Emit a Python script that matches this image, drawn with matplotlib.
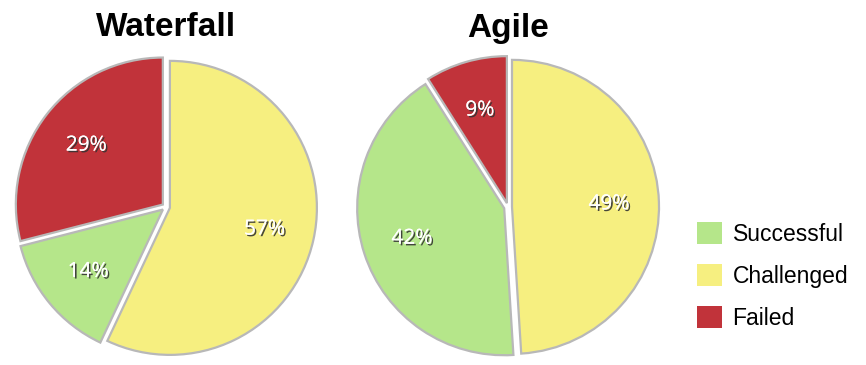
import matplotlib
matplotlib.use("Agg")
import matplotlib.pyplot as plt
import matplotlib.patheffects as pe
from matplotlib.patches import Patch

categories = ["Successful", "Challenged", "Failed"]
colors = ["#b5e68a", "#f6ef80", "#c1333a"]

# slices in drawing order (clockwise from 12 o'clock)
waterfall_order = ["Challenged", "Successful", "Failed"]
waterfall_values = [57, 14, 29]
agile_order = ["Challenged", "Successful", "Failed"]
agile_values = [49, 42, 9]

titles = ["Waterfall", "Agile"]

W, H = 866, 365
fig = plt.figure(figsize=(W / 100, H / 100), dpi=100)
ax = fig.add_axes([0, 0, 1, 1])
ax.set_xlim(0, W)
ax.set_ylim(0, H)
ax.set_aspect("equal")
ax.axis("off")

cmap = dict(zip(categories, colors))
shadow = [pe.withSimplePatchShadow(offset=(1.2, -1.2), shadow_rgbFace="#333333", alpha=0.9), pe.Normal()]

pies = [(waterfall_order, waterfall_values, (166, H - 207)),
        (agile_order, agile_values, (508, H - 207))]

for (order, vals, center), title in zip(pies, titles):
    # explode is in data units here (pixels), not radius fractions
    wedges, texts, autotexts = ax.pie(
        vals, colors=[cmap[c] for c in order], startangle=90, counterclock=False,
        center=center, radius=147, explode=[4] * len(vals),
        autopct=lambda p: f"{p:.0f}%", pctdistance=0.66,
        wedgeprops=dict(edgecolor="#b8b8b8", linewidth=1.6),
        textprops=dict(color="white", fontsize=15, family="Open Sans"))
    for t in autotexts:
        t.set_path_effects(shadow)
    ax.text(center[0], H - 28, title, ha="center", va="center",
            fontsize=24, fontweight="bold", family="Liberation Sans")

ax.set_xlim(0, W)
ax.set_ylim(0, H)

handles = [Patch(facecolor=c, edgecolor="none") for c in colors]
fig.legend(handles, categories, loc="upper left", bbox_to_anchor=(697 / W, 1 - 222 / H),
           frameon=False, handlelength=1.1, handleheight=1.1,
           labelspacing=0.8, handletextpad=0.45, borderaxespad=0,
           borderpad=0, prop=dict(family="Liberation Sans", size=16.5))

fig.savefig("out.png", dpi=100)
